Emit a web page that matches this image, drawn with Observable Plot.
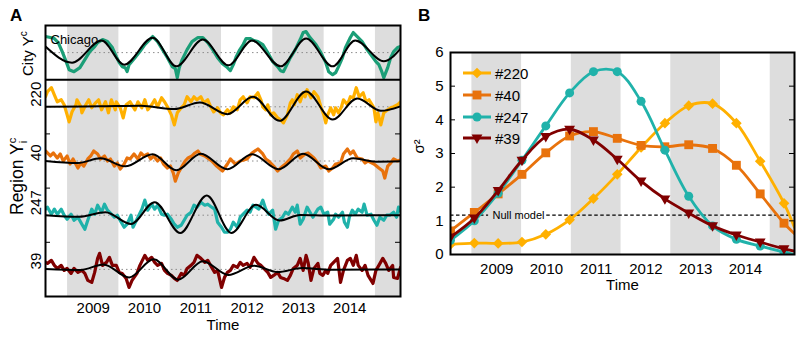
<!DOCTYPE html>
<html><head><meta charset="utf-8">
<script src="https://cdn.jsdelivr.net/npm/d3@7"></script>
<script src="https://cdn.jsdelivr.net/npm/@observablehq/plot@0.6"></script>
<style>
html,body{margin:0;padding:0;background:#fff;}
#root{position:relative;width:802px;height:339px;overflow:hidden;background:#fff;font-family:"Liberation Sans",Arial,Helvetica,sans-serif;}
.panel{position:absolute;top:0;}
#overlay{position:absolute;left:0;top:0;pointer-events:none;}
</style></head><body><div id="root"><div class="panel" id="pa" style="left:0;width:410px"></div><div class="panel" id="pb" style="left:410px;width:392px"></div></div>
<script>
// ---------------- shared time axis (weekly data) ----------------
const START_YEAR = 2008.07;
const WEEKS_PER_YEAR = 52.18;
const N_WEEKS = 361;
const yearLabels = [2009, 2010, 2011, 2012, 2013, 2014];
const shadedYears = [2009, 2011, 2013, 2015];

// ---------------- Panel A ----------------
const regionNames = ["220", "40", "247", "39"];
const regionRows = [162, 108, 54, 0];
const cityRow = 216;

const cityWeeks = [0,5,9,13,17,21,24,29,35,40,45,48,50,53,58,63,68,72,75,78,81,83,85,91,96,101,106,109,114,119,124,129,132,134,136,139,144,149,155,160,165,170,175,180,184,188,191,194,197,201,204,208,212,216,221,226,231,236,239,242,245,249,254,259,262,265,269,275,280,285,288,292,295,298,302,305,310,313,317,322,327,333,336,339,342,344,348,351,354,358,361];
const cityValues = [16,15,14,10,1,-9,-17,-19,-15,-7,1,4,6,10,13,11,5,-4,-10,-14,-15,-19,-12,-5,1,8,13,16,11,3,-5,-14,-16,-25,-15,-7,3,11,15,15,10,3,-5,-11,-14,-18,-12,-4,2,8,14,14,12,11,8,0,-9,-14,-18,-19,-13,-5,3,13,20,21,15,8,0,-10,-19,-22,-20,-14,-5,5,15,20,16,11,3,-5,-9,-12,-19,-25,-15,-5,1,5,6];
const cityFitWeeks = [0,27,57,80,109,133,160,186,210,239,265,292,315,344,361];
const cityFitValues = [6,-10,12,-12,14.7,-13.7,13,-12.7,12,-13.7,14,-13.7,12,-8.7,4];

const r220Weeks = [0,2,6,9,12,16,19,22,24,27,31,32,36,37,41,44,47,51,54,57,61,64,67,71,72,76,79,82,86,91,94,98,101,104,108,111,114,118,121,124,128,131,134,138,141,144,148,151,154,158,161,165,168,171,175,178,181,185,188,191,195,198,201,205,208,212,216,219,221,224,226,229,232,236,239,242,246,249,251,253,256,259,262,264,266,270,273,277,280,283,285,287,290,293,295,298,301,303,307,310,313,316,319,323,326,329,334,336,338,341,344,348,351,354,358,361];
const r220Values = [10,15,19,12,5,7,2,-8,-15,-5,2,7,0,-6,2,7,-1,4,7,-3,5,-6,7,-3,5,-1,-11,2,5,-3,5,-1,7,-3,2,7,0,9,5,0,-8,-18,-6,-1,2,10,5,10,7,10,4,7,0,-5,-1,-6,-8,-3,-6,0,-3,7,10,4,10,9,14,7,0,-3,2,-8,-6,-11,-13,-16,-8,4,7,2,12,5,14,10,17,9,15,10,0,-8,-16,-8,-1,-8,-1,-6,0,7,2,10,9,19,10,14,5,7,-1,-15,-6,-18,-6,-3,-1,0,2,5];
const r220FitWeeks = [0,56,97,131,157,185,211,238,265,292,317,341,361];
const r220FitValues = [0,0.5,1,-2.3,4.3,-7.3,10,-14,15.3,-12.7,8.3,-4,0.5];

const r40Weeks = [0,5,8,12,15,18,22,25,28,33,36,39,43,46,49,53,56,60,63,66,70,73,76,80,83,86,90,94,97,100,104,107,110,114,117,120,124,127,130,132,135,139,142,145,149,152,155,157,162,169,174,180,185,188,193,198,205,210,216,221,224,227,232,236,239,244,249,252,256,259,264,267,273,277,280,285,288,292,295,300,303,307,310,313,317,322,325,328,334,339,343,345,348,351,354,358,361];
const r40Values = [10,5,8,3,7,0,5,-3,2,-7,-2,-5,2,5,10,7,2,5,0,2,-5,-2,-8,-3,3,2,7,2,8,5,7,2,5,0,3,-3,-7,-5,-12,-20,-12,-5,0,3,5,8,10,7,5,0,-5,-10,-3,2,-3,0,2,8,12,7,2,0,-5,-10,-7,-3,2,7,10,3,7,8,3,-2,-7,-5,-10,-7,-3,-2,7,12,7,10,3,2,-2,0,-3,-7,-10,-17,-5,-2,2,0,1];
const r40FitWeeks = [0,33,56,81,109,133,158,185,210,237,262,288,313,336,361];
const r40FitValues = [0,-2,2.7,-5.3,6.7,-9.3,7.3,-8.3,6.7,-8.3,7.3,-8.3,2.7,-0.7,-0.3];

const r247Weeks = [0,2,6,9,12,16,19,22,26,29,33,37,40,43,47,50,53,57,60,63,67,70,73,77,80,83,87,89,93,98,101,104,108,111,114,118,121,124,128,131,134,138,141,144,148,151,154,158,162,165,169,172,175,179,182,185,188,191,195,198,201,205,208,211,217,221,224,227,231,234,237,241,244,247,251,254,256,259,262,266,269,272,277,280,283,287,289,293,295,298,302,304,307,309,312,315,318,322,324,327,331,334,337,340,344,347,350,354,357,359,361];
const r247Values = [6,8,1,6,1,6,0,-4,1,-5,-2,-9,-14,-5,6,1,10,3,11,5,1,-2,0,-7,-12,-9,0,-12,-4,6,15,5,11,6,10,1,0,1,-4,-9,-12,-10,-5,0,3,10,8,13,10,11,8,6,-7,-12,-17,-17,-14,-7,-12,-2,1,5,3,10,6,15,6,1,5,-14,-5,-2,3,1,8,3,10,-9,-4,8,3,-2,6,8,1,3,-9,-4,1,-2,3,-7,-12,-2,5,1,6,3,11,0,1,-5,-10,-2,-5,0,0,3,-2,8,4];
const r247FitWeeks = [0,34,61,87,111,137,164,189,214,238,259,290,361];
const r247FitValues = [0,-1.5,3,-8.7,13,-17.7,19.7,-17.7,10.3,-5.3,0.3,-0.3,0];

const r39Weeks = [0,2,6,9,12,16,19,22,26,29,33,37,40,43,47,50,53,55,58,62,65,68,72,75,78,82,85,88,93,96,101,104,108,111,114,118,121,124,128,131,134,138,141,144,148,151,154,158,162,165,169,172,175,179,182,185,188,191,195,198,201,205,208,212,216,219,222,226,229,232,236,239,242,246,249,252,256,259,262,265,267,270,273,277,279,282,285,287,290,293,297,300,303,307,310,313,316,318,322,325,328,333,336,339,343,346,349,353,354,358,361];
const r39Values = [7,6,9,4,1,4,-1,1,-4,1,-3,-1,-4,-11,-13,-3,11,16,4,7,12,4,4,-3,-4,-9,-18,-11,-4,4,14,9,12,7,4,6,-1,-4,-6,-9,-11,-4,-6,1,4,7,14,11,7,9,2,-3,-1,-18,-8,-3,-1,4,2,7,4,6,2,12,6,4,1,-3,-8,-6,-3,-8,-9,-11,-6,1,4,11,-1,14,7,-11,1,6,-4,-6,-1,-4,4,7,11,-13,-1,9,11,4,14,4,-1,4,-6,-14,-1,4,11,6,-1,4,-8,-9,2];
const r39FitWeeks = [0,36,59,85,110,135,160,186,212,236,261,290,361];
const r39FitValues = [0.5,-0.5,5,-8,10,-10.2,8.2,-5.5,3.7,-2.7,1.3,-0.3,0];

// ---------------- Panel B ----------------
const bWeeks = [0,25,50,75,100,125,150,175,200,225,250,275,300,325,350,361];
const bMarkerCount = 15;
const sigma220 = [0.30,0.34,0.33,0.37,0.60,1.03,1.66,2.38,3.18,3.90,4.42,4.48,3.90,2.77,1.52,0.80];
const sigma40  = [0.70,1.25,1.80,2.38,3.02,3.52,3.65,3.45,3.24,3.20,3.26,3.15,2.65,1.80,0.93,0.62];
const sigma247 = [0.42,1.00,1.82,2.80,3.82,4.80,5.43,5.43,4.55,3.10,1.73,0.85,0.45,0.25,0.07,0.00];
const sigma39  = [0.52,1.08,1.90,2.80,3.50,3.72,3.40,2.83,2.18,1.65,1.23,0.85,0.58,0.37,0.17,0.10];
const bLegend = ["#220", "#40", "#247", "#39"];
const nullModel = 1.17;
const yTicksB = [0,1,2,3,4,5,6];

// ---------------- styling ----------------
const FONT = '"Liberation Sans", Arial, Helvetica, sans-serif';
const BAND = "#dddddd";
const C_CITY = "#1b9e77", C220 = "#ffb000", C40 = "#e8720c", C247 = "#20b2aa", C39 = "#800000";

const triangleDown = {
  draw(ctx, size) {
    const h = Math.sqrt(size) * 0.62;
    ctx.moveTo(-h * 1.15, -h * 0.75);
    ctx.lineTo(h * 1.15, -h * 0.75);
    ctx.lineTo(0, h * 1.25);
    ctx.closePath();
  }
};

const yearToWeek = y => (y - START_YEAR) * WEEKS_PER_YEAR;
const bands = shadedYears.map(y => ({x1: yearToWeek(y - 0.5), x2: yearToWeek(y + 0.5)}));
const tickWeeks = yearLabels.map(yearToWeek);
const tickFmt = w => String(yearLabels[tickWeeks.indexOf(w)]);
const zipRows = (weeks, values, offset) => weeks.map((w, i) => ({w, v: values[i] + offset}));

const regions = [
  {row: regionRows[0], w: r220Weeks, v: r220Values, fw: r220FitWeeks, fv: r220FitValues, color: C220},
  {row: regionRows[1], w: r40Weeks, v: r40Values, fw: r40FitWeeks, fv: r40FitValues, color: C40},
  {row: regionRows[2], w: r247Weeks, v: r247Values, fw: r247FitWeeks, fv: r247FitValues, color: C247},
  {row: regionRows[3], w: r39Weeks, v: r39Values, fw: r39FitWeeks, fv: r39FitValues, color: C39},
  {row: cityRow, w: cityWeeks, v: cityValues, fw: cityFitWeeks, fv: cityFitValues, color: C_CITY}
];
const allRows = regions.map(r => r.row);
const separator = cityRow - 27;
const midTicks = [27, 81, 135];

const styleObj = {fontFamily: FONT, fontSize: "15px", background: "transparent", maxWidth: "none", overflow: "visible", color: "black"};

const plotA = Plot.plot({
  width: 410, height: 339,
  marginLeft: 45, marginRight: 10, marginTop: 25, marginBottom: 43,
  style: styleObj,
  x: {domain: [0, N_WEEKS]},
  y: {domain: [-27, 243], axis: null},
  marks: [
    Plot.rect(bands, {x1: "x1", x2: "x2", fill: BAND, clip: true}),
    Plot.ruleY(allRows, {stroke: "#8c8c8c", strokeDasharray: "1.5,3", strokeWidth: 1}),
    ...regions.map(r => Plot.line(zipRows(r.w, r.v, r.row), {x: "w", y: "v", stroke: r.color, strokeWidth: 3.2, strokeLinejoin: "round", clip: true})),
    ...regions.map(r => Plot.line(zipRows(r.fw, r.fv, r.row), {x: "w", y: "v", stroke: "black", strokeWidth: 2, curve: "monotone-x", clip: true})),
    Plot.ruleY([separator], {stroke: "black", strokeWidth: 2}),
    Plot.tickY(midTicks, {stroke: "black", insetRight: 350}),
    Plot.tickY(midTicks, {stroke: "black", insetLeft: 350}),
    Plot.frame({stroke: "black", strokeWidth: 2}),
    Plot.axisX({ticks: tickWeeks, tickFormat: tickFmt, tickSize: 0, tickPadding: 6, label: null, fontSize: 15}),
    Plot.text(regionNames, {y: (d, i) => regionRows[i], text: d => d, frameAnchor: "left", dx: -9, rotate: -90, fontSize: 15}),
    Plot.text(["Chicago"], {text: d => d, frameAnchor: "top-left", dx: 5, dy: 9, textAnchor: "start", fontSize: 13}),
    Plot.text(["Time"], {text: d => d, frameAnchor: "bottom", dy: 33, fontSize: 15})
  ]
});
document.getElementById("pa").appendChild(plotA);

const bSeries = [
  {name: bLegend[0], values: sigma220, color: C220, symbol: "diamond2", r: 4.8},
  {name: bLegend[1], values: sigma40, color: C40, symbol: "square", r: 5},
  {name: bLegend[2], values: sigma247, color: C247, symbol: "circle", r: 4.5},
  {name: bLegend[3], values: sigma39, color: C39, symbol: triangleDown, r: 4.3}
];
const bRows = s => bWeeks.map((w, i) => ({w, v: s.values[i], marker: i < bMarkerCount}));

const plotB = Plot.plot({
  width: 392, height: 339,
  marginLeft: 40, marginRight: 8, marginTop: 52, marginBottom: 85,
  style: styleObj,
  x: {domain: [0, N_WEEKS]},
  y: {domain: [0, 6]},
  marks: [
    Plot.rect(bands, {x1: "x1", x2: "x2", fill: BAND, clip: true}),
    Plot.ruleY([{x1: 0, x2: 40}, {x1: 101, x2: N_WEEKS}], {y: () => nullModel, x1: "x1", x2: "x2", stroke: "black", strokeWidth: 1.4, strokeDasharray: "3.5,2.5"}),
    Plot.text([nullModel], {y: d => d, text: () => "Null model", frameAnchor: "left", dx: 42, textAnchor: "start", fontSize: 11}),
    ...bSeries.flatMap(s => [
      Plot.line(bRows(s), {x: "w", y: "v", stroke: s.color, strokeWidth: 2.8, curve: "catmull-rom", clip: true}),
      Plot.dot(bRows(s).filter(d => d.marker), {x: "w", y: "v", symbol: s.symbol, r: s.r, fill: s.color, stroke: "none", clip: true})
    ]),
    Plot.tickY(yTicksB.slice(1, -1), {stroke: "black", insetRight: 339}),
    Plot.tickY(yTicksB.slice(1, -1), {stroke: "black", insetLeft: 339}),
    Plot.frame({stroke: "black", strokeWidth: 2}),
    Plot.axisX({ticks: tickWeeks, tickFormat: tickFmt, tickSize: 0, tickPadding: 9, label: null, fontSize: 15}),
    Plot.axisY({ticks: yTicksB, tickFormat: d => String(d), tickSize: 0, tickPadding: 7, label: null, fontSize: 15}),
    Plot.text(["σ²"], {text: d => d, frameAnchor: "left", dx: -31, rotate: -90, fontSize: 15}),
    Plot.text(["Time"], {text: d => d, frameAnchor: "bottom", dy: 35, fontSize: 15})
  ]
});
document.getElementById("pb").appendChild(plotB);

// ---------------- overlay: panel letters, rotated labels, legend ----------------
const svg = d3.select("#root").append("svg").attr("id", "overlay")
  .attr("width", 802).attr("height", 339)
  .style("font-family", FONT);

svg.append("text").attr("x", 10).attr("y", 21).attr("font-size", 17).attr("font-weight", "bold").text("A");
svg.append("text").attr("x", 418).attr("y", 21).attr("font-size", 17).attr("font-weight", "bold").text("B");

const cityLab = svg.append("text").attr("transform", "translate(33,76) rotate(-90)")
  .attr("text-anchor", "start").attr("font-size", 15);
cityLab.append("tspan").text("City Y");
cityLab.append("tspan").attr("font-size", 10).attr("dy", -6).text("c");

const regLab = svg.append("text").attr("transform", "translate(23,215) rotate(-90)")
  .attr("text-anchor", "start").attr("font-size", 17.5);
regLab.append("tspan").text("Region Y");
regLab.append("tspan").attr("font-size", 11).attr("dy", -7).text("c");
regLab.append("tspan").attr("font-size", 11).attr("dx", -5.5).attr("dy", 11).text("i");

const legendY = [73, 95, 117, 138];
bSeries.forEach((s, i) => {
  const g = svg.append("g").attr("transform", `translate(0,${legendY[i]})`);
  g.append("line").attr("x1", 463).attr("x2", 491).attr("stroke", s.color).attr("stroke-width", 3);
  const type = typeof s.symbol === "string"
    ? ({diamond2: d3.symbolDiamond2, square: d3.symbolSquare, circle: d3.symbolCircle})[s.symbol]
    : s.symbol;
  g.append("path").attr("transform", "translate(477,0)")
    .attr("d", d3.symbol(type, Math.PI * s.r * s.r)()).attr("fill", s.color);
  g.append("text").attr("x", 495).attr("y", 5.5).attr("font-size", 15).text(s.name);
});
</script></body></html>
